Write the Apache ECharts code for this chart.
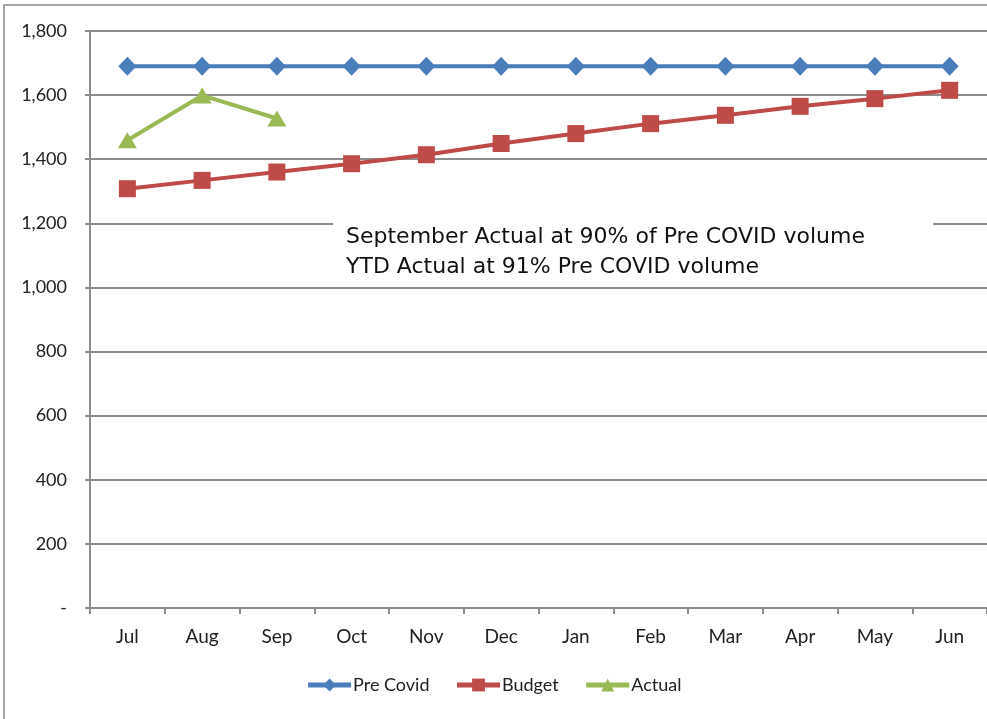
<!DOCTYPE html>
<html>
<head>
<meta charset="utf-8">
<script src="https://cdn.jsdelivr.net/npm/echarts@6/dist/echarts.min.js"></script>
<style>
  html, body { margin: 0; padding: 0; background: #fff; }
  #chart { width: 987px; height: 719px; }
</style>
</head>
<body>
<div id="chart"></div>
<script>
const months = ['Jul', 'Aug', 'Sep', 'Oct', 'Nov', 'Dec', 'Jan', 'Feb', 'Mar', 'Apr', 'May', 'Jun'];
const preCovid = [1690, 1690, 1690, 1690, 1690, 1690, 1690, 1690, 1690, 1690, 1690, 1690];
const budget = [1308, 1334, 1360, 1386, 1414, 1449, 1480, 1511, 1537, 1565, 1589, 1615];
const actual = [1459, 1599, 1527];
const noteLines = [
  'September Actual at 90% of Pre COVID volume',
  'YTD Actual at 91% Pre COVID volume'
];

const labelFont = 'Lato, "Open Sans", sans-serif';
const gridColor = '#8c8c8c';

const chart = echarts.init(document.getElementById('chart'));

chart.setOption({
  animation: false,
  backgroundColor: '#fff',
  grid: { left: 90, top: 31, width: 899, bottom: 111 },
  legend: {
    bottom: 20,
    left: 'center',
    itemWidth: 43,
    itemHeight: 16,
    itemGap: 25,
    lineStyle: { width: 5 },
    textStyle: { fontFamily: labelFont, fontSize: 18, color: '#222', padding: [0, 0, 0, -3] },
    data: ['Pre Covid', 'Budget', 'Actual']
  },
  xAxis: {
    type: 'category',
    data: months,
    boundaryGap: true,
    axisLine: { lineStyle: { color: gridColor, width: 2 } },
    axisTick: { show: true, length: 6, lineStyle: { color: gridColor, width: 2 } },
    axisLabel: { margin: 19, fontFamily: labelFont, fontSize: 19, color: '#222' }
  },
  yAxis: {
    type: 'value',
    min: 0,
    max: 1800,
    interval: 200,
    axisLine: { show: true, lineStyle: { color: gridColor, width: 2 } },
    axisTick: { show: true, inside: false, length: 5, lineStyle: { color: gridColor, width: 2 } },
    splitLine: { lineStyle: { color: gridColor, width: 2 } },
    axisLabel: {
      margin: 23,
      fontFamily: labelFont,
      fontSize: 18,
      color: '#222',
      formatter: v => v === 0 ? '-' : v.toLocaleString('en-US')
    }
  },
  series: [
    {
      name: 'Pre Covid',
      type: 'line',
      data: preCovid,
      symbol: 'diamond',
      symbolSize: [18, 19],
      lineStyle: { color: '#4a7ebb', width: 4 },
      itemStyle: { color: '#4a7ebb' }
    },
    {
      name: 'Budget',
      type: 'line',
      data: budget,
      symbol: 'rect',
      symbolSize: [17, 17],
      lineStyle: { color: '#be4b48', width: 4 },
      itemStyle: { color: '#be4b48' }
    },
    {
      name: 'Actual',
      type: 'line',
      data: actual,
      symbol: 'triangle',
      symbolSize: [19, 16],
      lineStyle: { color: '#98b954', width: 4 },
      itemStyle: { color: '#98b954' }
    }
  ],
  graphic: [
    {
      type: 'rect',
      z: -1,
      shape: { x: 4, y: 5, width: 1000, height: 800 },
      style: { fill: 'none', stroke: '#a6a6a6', lineWidth: 2 }
    },
    {
      type: 'rect',
      z: 50,
      shape: { x: 333, y: 206, width: 600, height: 74 },
      style: { fill: '#fff' }
    },
    {
      type: 'text',
      z: 51,
      left: 346,
      top: 222,
      style: {
        text: noteLines.join('\n'),
        fontFamily: 'DejaVu Sans',
        fontSize: 22,
        lineHeight: 30,
        fill: '#111'
      }
    }
  ]
});
</script>
</body>
</html>
